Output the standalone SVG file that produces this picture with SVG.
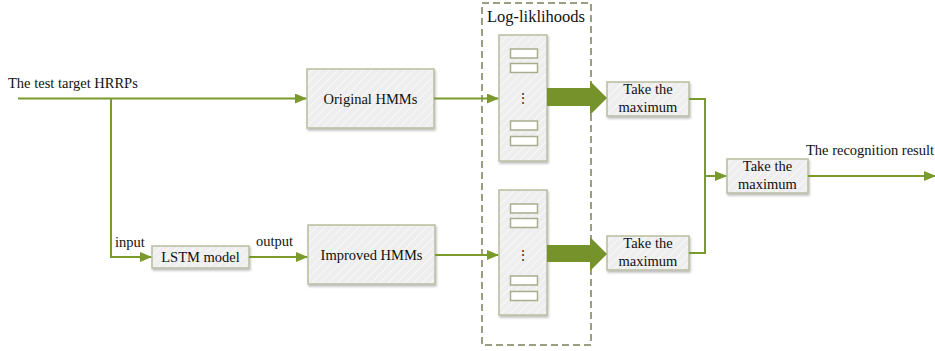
<svg xmlns="http://www.w3.org/2000/svg" width="935" height="351" viewBox="0 0 935 351">
<defs>
<pattern id="hatch" patternUnits="userSpaceOnUse" width="6" height="6" patternTransform="rotate(45)">
<rect width="6" height="6" fill="#eeeeee"/>
<line x1="0" y1="0" x2="0" y2="6" stroke="#f8f8f8" stroke-width="2"/>
</pattern>
<filter id="sh" x="-10%" y="-10%" width="130%" height="130%">
<feDropShadow dx="1" dy="2" stdDeviation="1" flood-color="#000" flood-opacity="0.25"/>
</filter>
<marker id="arr" markerWidth="12" markerHeight="10" refX="11" refY="5" orient="auto" markerUnits="userSpaceOnUse">
<path d="M0,0 L12,5 L0,10 Z" fill="#7a9a2c"/>
</marker>
</defs>
<style>
.box{fill:url(#hatch);stroke:#b9bd9f;stroke-width:1.5;filter:url(#sh)}
.cell{fill:#ffffff;stroke:#a9ad8c;stroke-width:1.5}
.ln{fill:none;stroke:#7a9a2c;stroke-width:2}
.big{fill:#76932b}
text{font-family:"Liberation Serif","Times New Roman",serif;font-size:14.5px;fill:#111}
.c{text-anchor:middle}
.dots{font-size:14px;fill:#333}
</style>
<g id="loglik">
<rect x="482" y="3" width="109" height="342" fill="none" stroke="#7b7f5a" stroke-width="1.5" stroke-dasharray="7,4"/>
<text x="536" y="22" class="c" style="font-size:16.5px">Log-liklihoods</text>
</g>
<g id="col-top">
<rect class="box" x="499" y="35" width="48" height="126"/>
<rect class="cell" x="510.5" y="49" width="27" height="9"/>
<rect class="cell" x="510.5" y="63.5" width="27" height="9"/>
<rect class="cell" x="510.5" y="121" width="27" height="9"/>
<rect class="cell" x="510.5" y="136.5" width="27" height="9"/>
<text x="523" y="103" class="c dots">⋮</text>
</g>
<g id="col-bottom">
<rect class="box" x="499" y="190" width="48" height="125"/>
<rect class="cell" x="510.5" y="204" width="27" height="9"/>
<rect class="cell" x="510.5" y="218.5" width="27" height="9"/>
<rect class="cell" x="510.5" y="276" width="27" height="9"/>
<rect class="cell" x="510.5" y="291.5" width="27" height="9"/>
<text x="523" y="260" class="c dots">⋮</text>
</g>
<g id="original-hmms">
<rect class="box" x="307" y="69" width="127" height="59"/>
<text x="370.5" y="103.5" class="c">Original HMMs</text>
</g>
<g id="improved-hmms">
<rect class="box" x="308" y="225" width="127" height="59"/>
<text x="371.5" y="259.5" class="c">Improved HMMs</text>
</g>
<g id="lstm">
<rect class="box" x="152" y="246" width="97" height="22"/>
<text x="200.5" y="262" class="c">LSTM model</text>
</g>
<g id="max-top">
<rect class="box" x="607" y="82" width="82" height="34"/>
<text x="648" y="94" class="c">Take the</text>
<text x="648" y="112" class="c">maximum</text>
</g>
<g id="max-bottom">
<rect class="box" x="607" y="236" width="82" height="34"/>
<text x="648" y="248" class="c">Take the</text>
<text x="648" y="266" class="c">maximum</text>
</g>
<g id="max-final">
<rect class="box" x="727" y="159" width="81" height="34"/>
<text x="767.5" y="171" class="c">Take the</text>
<text x="767.5" y="189" class="c">maximum</text>
</g>
<g id="connectors">
<path class="ln" d="M18,98.5 H306" marker-end="url(#arr)"/>
<path class="ln" d="M111,98.5 V257 H151" marker-end="url(#arr)"/>
<path class="ln" d="M249,257 H307" marker-end="url(#arr)"/>
<path class="ln" d="M434,98.5 H498" marker-end="url(#arr)"/>
<path class="ln" d="M435,255 H498" marker-end="url(#arr)"/>
<path class="big" d="M547,88 H590 V81 L607,98 L590,115 V106 H547 Z"/>
<path class="big" d="M547,245 H590 V237 L607,254 L590,271 V262 H547 Z"/>
<path class="ln" d="M689,99 H705 V253 H689"/>
<path class="ln" d="M705,176 H726" marker-end="url(#arr)"/>
<path class="ln" d="M808,176 H935" marker-end="url(#arr)"/>
</g>
<g id="labels">
<text x="8" y="88">The test target HRRPs</text>
<text x="115" y="247">input</text>
<text x="256" y="246">output</text>
<text x="806" y="155">The recognition result</text>
</g>
</svg>
